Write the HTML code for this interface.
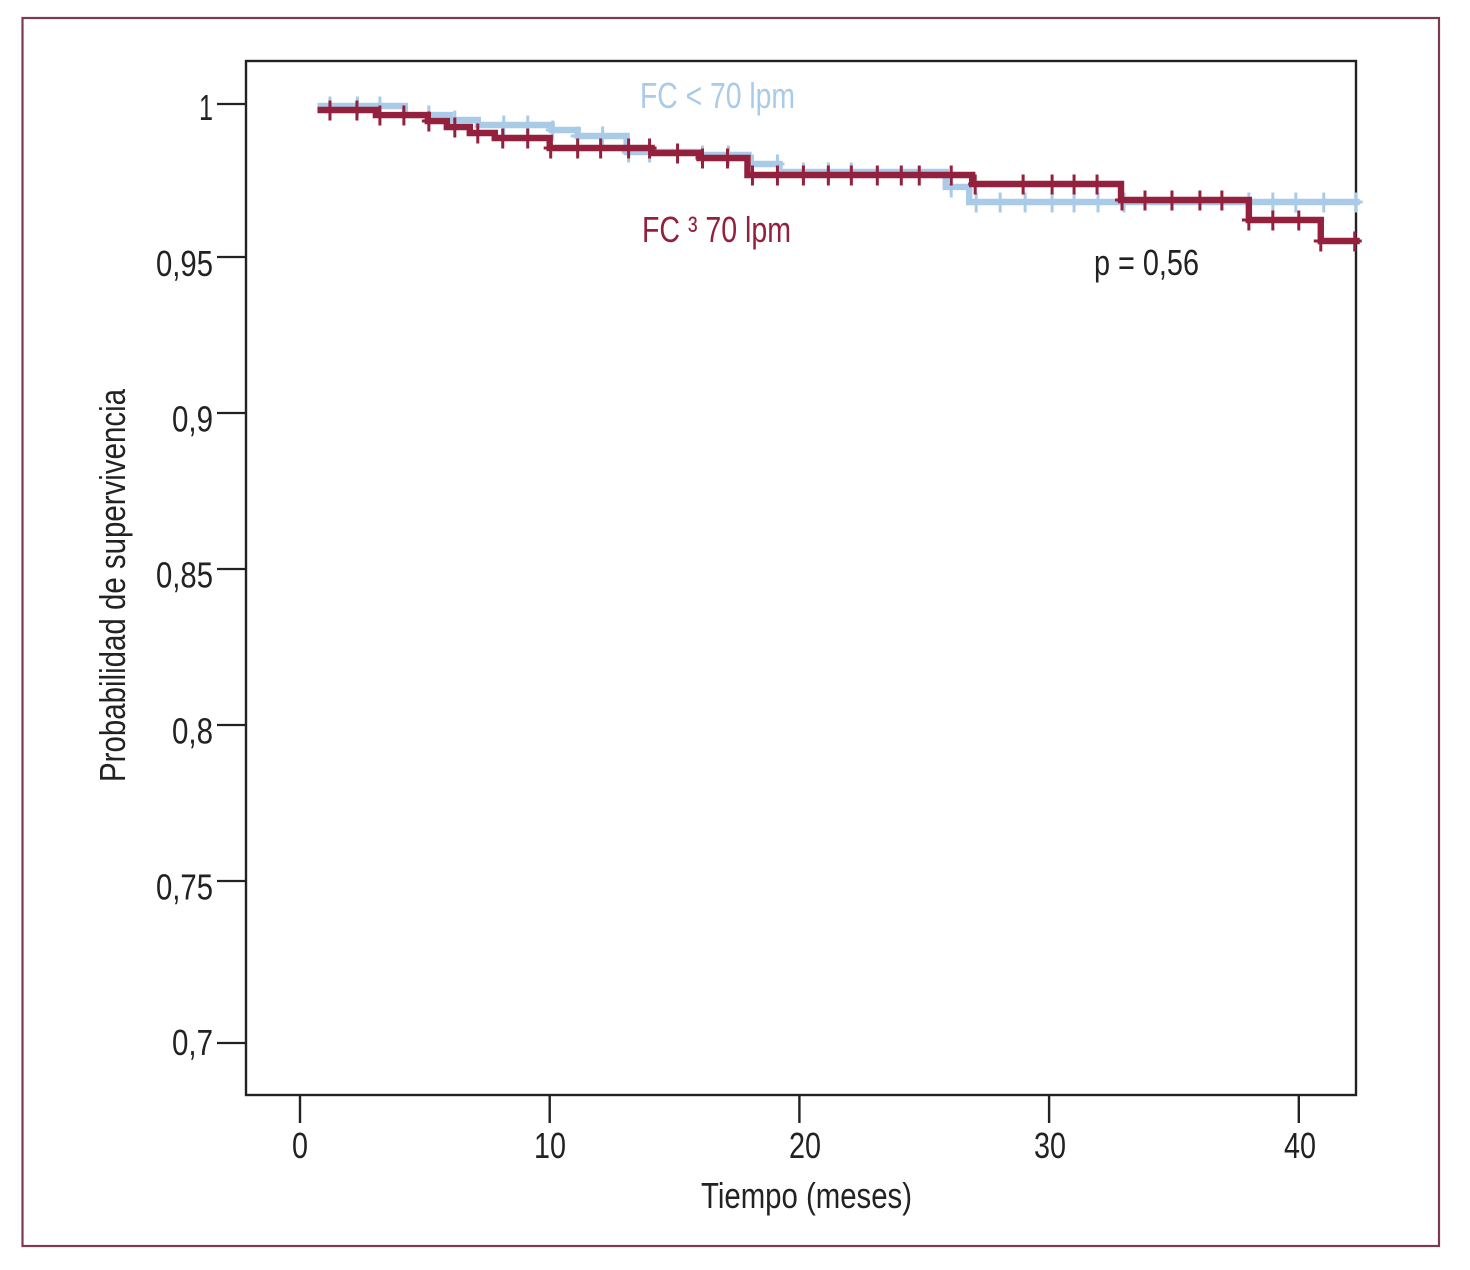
<!DOCTYPE html>
<html lang="es">
<head>
<meta charset="utf-8">
<title>Curva de supervivencia</title>
<style>
html,body{margin:0;padding:0;background:#fff;width:1470px;height:1270px;overflow:hidden}
svg{display:block}
text{font-family:"Liberation Sans",sans-serif;font-size:36px;fill:#222}
</style>
</head>
<body>
<svg id="chart" xmlns="http://www.w3.org/2000/svg" width="1470" height="1270" viewBox="0 0 1470 1270">
  <rect x="22.5" y="18" width="1416.5" height="1228" fill="#fff" stroke="#7b3a50" stroke-width="2.2"/>
  <g id="axes"></g>
  <g id="series"></g>
  <text x="640" y="108" textLength="155" lengthAdjust="spacingAndGlyphs" style="fill:#a9cbe8">FC &lt; 70 lpm</text>
  <text x="642" y="242" textLength="149" lengthAdjust="spacingAndGlyphs" style="fill:#93203c">FC ³ 70 lpm</text>
  <text x="1094" y="275" textLength="105" lengthAdjust="spacingAndGlyphs">p = 0,56</text>
  <text x="701" y="1208" textLength="211" lengthAdjust="spacingAndGlyphs">Tiempo (meses)</text>
  <text transform="translate(125,782) rotate(-90)" x="0" y="0" textLength="393" lengthAdjust="spacingAndGlyphs">Probabilidad de supervivencia</text>
</svg>
<script>
const xTicks = [0, 10, 20, 30, 40];
const xTickLabels = ["0", "10", "20", "30", "40"];
const yTicks = [1, 0.95, 0.9, 0.85, 0.8, 0.75, 0.7];
const yTickLabels = ["1", "0,95", "0,9", "0,85", "0,8", "0,75", "0,7"];

const blueTimes = [0.7, 4.2, 6.0, 7.12, 10.08, 11.12, 13.08, 16.0, 17.96, 19.2, 25.86, 26.8, 42.44];
const blueSurvival = [0.99935, 0.9964, 0.99477, 0.99314, 0.9915, 0.98954, 0.98431, 0.98333, 0.98039, 0.97778, 0.97288, 0.96797];
const blueCensored = [1.2, 2.3, 3.2, 5.16, 6.2, 8.16, 9.12, 10.12, 11.12, 12.12, 13.16, 14, 16.12, 17.16, 18.12, 19.12, 20.16, 21.16, 22.08, 26.08, 27.08, 28.04, 29.04, 30.12, 31, 31.96, 33, 38, 38.96, 39.88, 41, 42.28];

const redTimes = [0.7, 3.04, 5.12, 5.88, 6.8, 7.8, 10.0, 14.08, 16.0, 17.92, 26.92, 32.88, 38.0, 40.88, 42.44];
const redSurvival = [0.99804, 0.9964, 0.99444, 0.99248, 0.99052, 0.98889, 0.98562, 0.98399, 0.98235, 0.9768, 0.97386, 0.96863, 0.96209, 0.95523];
const redCensored = [1.2, 2.28, 3.2, 4.16, 5.16, 6.2, 7.12, 8.12, 9.12, 10.04, 11.12, 12.04, 13.16, 14, 15.12, 16.12, 17.12, 18.12, 19.12, 20.16, 21.16, 22.08, 23.12, 24.08, 24.8, 26.08, 27.04, 28.96, 30.12, 31, 31.92, 32.92, 33.84, 34.92, 36.04, 36.92, 38, 38.96, 40, 40.88, 42.24];

const NS = "http://www.w3.org/2000/svg";
const INK = "#222222";
const plotLeft = 246, plotRight = 1356, plotTop = 61, plotBottom = 1095;

function xScale(t) { return 300 + 24.97 * t; }
function xLabelCentre(t) { return (t === 20 ? 305 : 300) + 25 * t; }
function yScale(v) {
  if (v >= 0.95) return 104 + (1 - v) * 3060;
  if (v >= 0.75) return 257 + (0.95 - v) * 3120;
  return 881 + (0.75 - v) * 3240;
}
function yLabelBaseline(v) { return 120 + (1 - v) * 3117; }

function make(tag, attrs, parent) {
  const el = document.createElementNS(NS, tag);
  for (const k in attrs) el.setAttribute(k, attrs[k]);
  parent.appendChild(el);
  return el;
}

const axes = document.getElementById("axes");
const frame = make("rect", { x: plotLeft, y: plotTop, width: plotRight - plotLeft, height: plotBottom - plotTop, fill: "none", stroke: INK, "stroke-width": 2.4 }, axes);



xTicks.forEach(function (t, i) {
  const px = xScale(t);
  const tick = make("line", { x1: px, x2: px, y1: plotBottom, y2: 1123, stroke: INK, "stroke-width": 2.4 }, axes);
  
  
  const label = make("text", { x: xLabelCentre(t), y: 1158, "text-anchor": "middle", textLength: xTickLabels[i].length * 16, lengthAdjust: "spacingAndGlyphs" }, axes);
  
  
  label.textContent = xTickLabels[i];
});

yTicks.forEach(function (v, i) {
  const py = yScale(v);
  const tick = make("line", { x1: 217, x2: plotLeft, y1: py, y2: py, stroke: INK, "stroke-width": 2.2 }, axes);
  
  
  const s = yTickLabels[i];
  const w = s.length === 1 ? 14 : (s.length === 3 ? 41 : 57);
  const label = make("text", { x: 213 - w, y: yLabelBaseline(v), textLength: w, lengthAdjust: "spacingAndGlyphs" }, axes);
  
  
  label.textContent = s;
});

function survivalAt(times, survival, t) {
  let s = survival[0];
  for (let i = 0; i < survival.length; i++) { if (t >= times[i]) s = survival[i]; }
  return s;
}

function drawSeries(times, survival, censored, color, name) {
  const group = make("g", {}, document.getElementById("series"));
  
  
  censored.forEach(function (t) {
    const px = xScale(t), py = yScale(survivalAt(times, survival, t));
    const mark = make("path", { d: "M" + px + " " + (py - 9.5) + "V" + (py + 10.5) + "M" + (px - 7) + " " + py + "H" + (px + 7), stroke: color, "stroke-width": 3, fill: "none" }, group);
    
    
  });
  let d = "M" + xScale(times[0]) + " " + yScale(survival[0]);
  for (let i = 0; i < survival.length; i++) {
    d += "H" + xScale(times[i + 1]);
    if (i + 1 < survival.length) d += "V" + yScale(survival[i + 1]);
  }
  const line = make("path", { d: d, stroke: color, "stroke-width": 6.4, fill: "none", "stroke-linejoin": "miter" }, group);
  
  
}

drawSeries(blueTimes, blueSurvival, blueCensored, "#a9cbe8", "series-fc-under-70");
drawSeries(redTimes, redSurvival, redCensored, "#93203c", "series-fc-over-70");
</script>
</body>
</html>
